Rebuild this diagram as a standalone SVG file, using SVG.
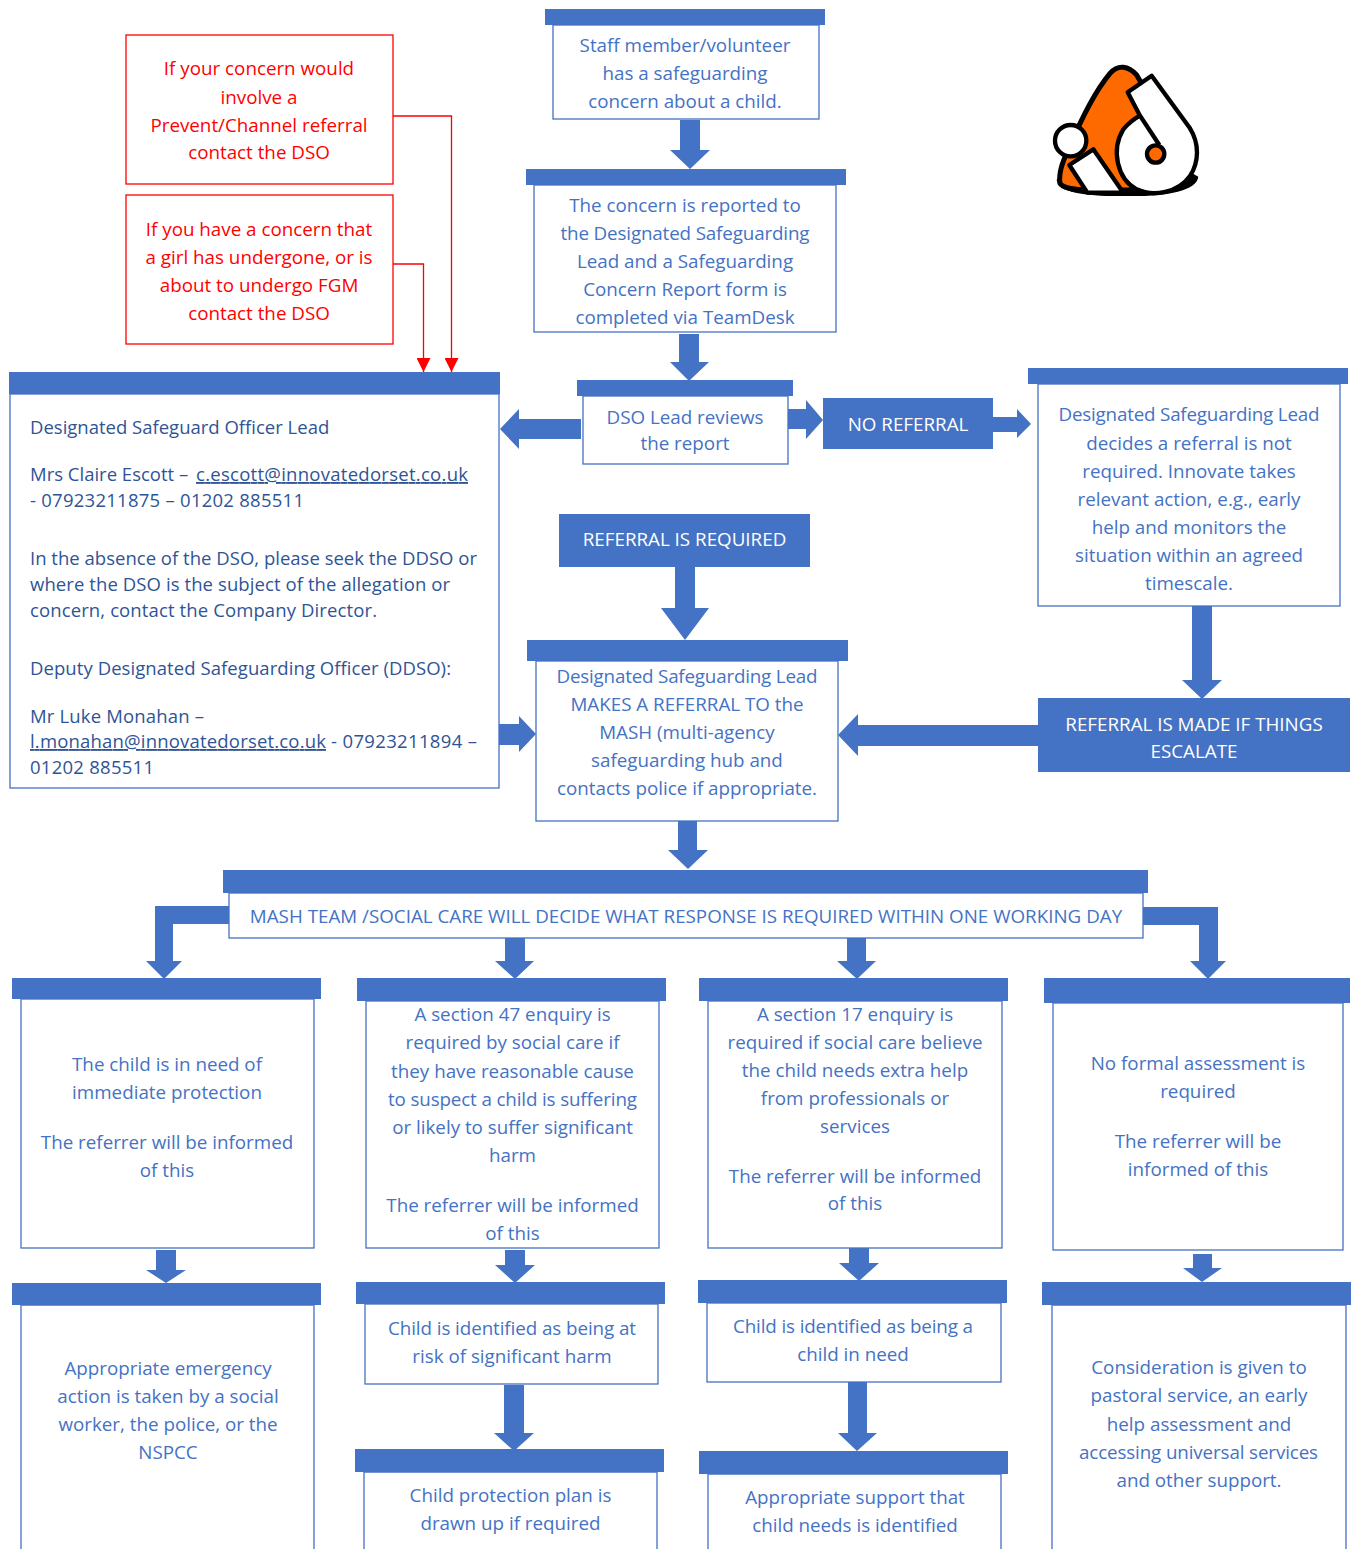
<svg xmlns="http://www.w3.org/2000/svg" width="1352" height="1549" viewBox="0 0 1352 1549">
<style>
text{font-family:"Open Sans","Liberation Sans",sans-serif;font-size:18.8px}
.t{fill:#4472c4;text-anchor:middle}
.l{fill:#2f5496;font-size:18.5px}
.u{text-decoration:underline}
.w{fill:#fff;text-anchor:middle}
.r{fill:#f00;text-anchor:middle}
.h,.a,.f{fill:#4472c4}
.b{fill:#fff;stroke:#4472c4;stroke-width:1.3}
.rb{fill:#fff;stroke:#f00;stroke-width:1.3}
.rc{fill:none;stroke:#f00;stroke-width:1.3}
</style>
<defs><marker id="rh" markerWidth="14" markerHeight="14" refX="14" refY="7" orient="auto" markerUnits="userSpaceOnUse"><path d="M0 0L14 7L0 14Z" fill="#f00"/></marker></defs>
<g id="connectors">
<path class="rc" d="M393 116H451.500V372" marker-end="url(#rh)"/>
<path class="rc" d="M393 264H423.500V372" marker-end="url(#rh)"/>
<polygon class="a" points="680,120 700,120 700,150 710,150 690,169 670,150 680,150"/>
<polygon class="a" points="679,334 699,334 699,362 709,362 689,381 670,362 679,362"/>
<polygon class="a" points="581,419 519,419 519,409 500,429 519,449 519,439 581,439"/>
<polygon class="a" points="788,409 806,409 806,400 823,420 806,439 806,429 788,429"/>
<polygon class="a" points="993,417 1017,417 1017,409 1031,424 1017,438 1017,432 993,432"/>
<polygon class="a" points="1192,606 1212,606 1212,680 1222,680 1202,699 1182,680 1192,680"/>
<polygon class="a" points="1038,725 858,725 858,714 838,735 858,756 858,746 1038,746"/>
<polygon class="a" points="675,567 695,567 695,608 709,608 685,640 661,608 675,608"/>
<polygon class="a" points="499,724 519,724 519,716 536,734 519,752 519,745 499,745"/>
<polygon class="a" points="678,821 697,821 697,850 708,850 688,869 668,850 678,850"/>
<polygon class="a" points="229,906 155,906 155,961 146,961 164,979 182,961 173,961 173,924 229,924"/>
<polygon class="a" points="1143,907 1218,907 1218,961 1226,961 1208,979 1190,961 1199,961 1199,925 1143,925"/>
<polygon class="a" points="505,938 525,938 525,961 534,961 515,979 495,961 505,961"/>
<polygon class="a" points="847,938 866,938 866,961 876,961 857,979 837,961 847,961"/>
<polygon class="a" points="156,1250 176,1250 176,1270 186,1270 166,1283 146,1270 156,1270"/>
<polygon class="a" points="505,1250 525,1250 525,1265 535,1265 515,1283 495,1265 505,1265"/>
<polygon class="a" points="849,1248 869,1248 869,1263 879,1263 859,1281 839,1263 849,1263"/>
<polygon class="a" points="1193,1254 1212,1254 1212,1268 1222,1268 1202,1282 1183,1268 1193,1268"/>
<polygon class="a" points="504,1385 524,1385 524,1433 534,1433 514,1451 494,1433 504,1433"/>
<polygon class="a" points="848,1382 867,1382 867,1433 877,1433 857,1451 838,1433 848,1433"/>
</g>
<g id="logo" transform="translate(1030 50) scale(.3333)">
<path d="M80 390C85 430 180 440 290 438C400 440 500 425 505 380L470 360H100Z" fill="#000"/>
<path d="M90 400C85 370 95 340 115 300C150 215 190 130 240 70C265 42 295 48 320 75L450 300L300 420H170C140 420 100 415 90 400Z" fill="#ff6a00" stroke="#000" stroke-width="15" stroke-linejoin="round"/>
<path d="M293 127L365 77L480 235C508 280 508 335 480 378C445 428 370 442 320 418C262 388 242 300 280 238C295 220 310 208 330 197Z" fill="#fff" stroke="#000" stroke-width="13" stroke-linejoin="round"/>
<path d="M330 197L388 285" fill="none" stroke="#000" stroke-width="13"/>
<circle cx="377" cy="312" r="26" fill="#ff6a00" stroke="#000" stroke-width="13"/>
<path d="M118 345L190 298L280 428H172Z" fill="#fff" stroke="#000" stroke-width="13" stroke-linejoin="round"/>
<circle cx="122" cy="272" r="47" fill="#fff" stroke="#000" stroke-width="13"/>
</g>
<g id="n-staff"><rect class="h" x="545" y="9" width="280" height="16"/><rect class="b" x="553" y="25" width="266" height="94"/>
<text class="t" x="685" y="52">Staff member/volunteer</text><text class="t" x="685" y="80">has a safeguarding</text><text class="t" x="685" y="108">concern about a child.</text></g>
<g id="n-reported"><rect class="h" x="526" y="169" width="320" height="16"/><rect class="b" x="534" y="185" width="302" height="147"/>
<text class="t" x="685" y="212">The concern is reported to</text><text class="t" x="685" y="240" textLength="249">the Designated Safeguarding</text><text class="t" x="685" y="268">Lead and a Safeguarding</text><text class="t" x="685" y="296">Concern Report form is</text><text class="t" x="685" y="324">completed via TeamDesk</text></g>
<g id="n-prevent"><rect class="rb" x="126" y="35" width="267" height="149"/>
<text class="r" x="259" y="75">If your concern would</text><text class="r" x="259" y="104">involve a</text><text class="r" x="259" y="132">Prevent/Channel referral</text><text class="r" x="259" y="159">contact the DSO</text></g>
<g id="n-fgm"><rect class="rb" x="126" y="195" width="267" height="149"/>
<text class="r" x="259" y="236">If you have a concern that</text><text class="r" x="259" y="264">a girl has undergone, or is</text><text class="r" x="259" y="292">about to undergo FGM</text><text class="r" x="259" y="320">contact the DSO</text></g>
<g id="n-dso-contact"><rect class="h" x="9" y="372" width="491" height="22"/><rect class="b" x="10" y="394" width="489" height="394"/>
<text class="l" x="30" y="434">Designated Safeguard Officer Lead</text>
<text class="l" x="30" y="481">Mrs Claire Escott – <tspan class="u" x="196" textLength="272">c.escott@innovatedorset.co.uk</tspan></text>
<text class="l" x="30" y="507" textLength="274">- 07923211875 – 01202 885511</text>
<text class="l" x="30" y="565" textLength="447">In the absence of the DSO, please seek the DDSO or</text>
<text class="l" x="30" y="591" textLength="420">where the DSO is the subject of the allegation or</text>
<text class="l" x="30" y="617" textLength="347">concern, contact the Company Director.</text>
<text class="l" x="30" y="675" textLength="421">Deputy Designated Safeguarding Officer (DDSO):</text>
<text class="l" x="30" y="723" textLength="174">Mr Luke Monahan –</text>
<text class="l" x="30" y="748"><tspan class="u" textLength="296">l.monahan@innovatedorset.co.uk</tspan><tspan x="331" textLength="146">- 07923211894 –</tspan></text>
<text class="l" x="30" y="774" textLength="124">01202 885511</text></g>
<g id="n-review"><rect class="h" x="577" y="380" width="216" height="16"/><rect class="b" x="583" y="396" width="205" height="68"/>
<text class="t" x="685" y="423.500">DSO Lead reviews</text><text class="t" x="685" y="450">the report</text></g>
<g id="n-noref"><rect class="f" x="823" y="398" width="170" height="51"/><text class="w" x="908" y="431">NO REFERRAL</text></g>
<g id="n-decides"><rect class="h" x="1028" y="368" width="320" height="16"/><rect class="b" x="1038" y="384" width="302" height="222"/>
<text class="t" x="1189" y="421" textLength="261">Designated Safeguarding Lead</text><text class="t" x="1189" y="450">decides a referral is not</text><text class="t" x="1189" y="478">required. Innovate takes</text><text class="t" x="1189" y="506">relevant action, e.g., early</text><text class="t" x="1189" y="534">help and monitors the</text><text class="t" x="1189" y="562">situation within an agreed</text><text class="t" x="1189" y="590">timescale.</text></g>
<g id="n-refreq"><rect class="f" x="559" y="514" width="251" height="53"/><text class="w" x="684.500" y="546">REFERRAL IS REQUIRED</text></g>
<g id="n-escalate"><rect class="f" x="1038" y="698" width="312" height="74"/><text class="w" x="1194" y="731">REFERRAL IS MADE IF THINGS</text><text class="w" x="1194" y="758">ESCALATE</text></g>
<g id="n-mash-ref"><rect class="h" x="527" y="640" width="321" height="21"/><rect class="b" x="536" y="661" width="302" height="160"/>
<text class="t" x="687" y="683" textLength="261">Designated Safeguarding Lead</text><text class="t" x="687" y="711">MAKES A REFERRAL TO the</text><text class="t" x="687" y="739">MASH (multi-agency</text><text class="t" x="687" y="767">safeguarding hub and</text><text class="t" x="687" y="795">contacts police if appropriate.</text></g>
<g id="n-mash"><rect class="h" x="223" y="870" width="925" height="23"/><rect class="b" x="229" y="893" width="914" height="45"/>
<text class="t" x="686" y="923">MASH TEAM /SOCIAL CARE WILL DECIDE WHAT RESPONSE IS REQUIRED WITHIN ONE WORKING DAY</text></g>
<g id="n-immediate"><rect class="h" x="12" y="978" width="309" height="21"/><rect class="b" x="21" y="999" width="293" height="249"/>
<text class="t" x="167" y="1071">The child is in need of</text><text class="t" x="167" y="1099">immediate protection</text><text class="t" x="167" y="1149">The referrer will be informed</text><text class="t" x="167" y="1177">of this</text></g>
<g id="n-s47"><rect class="h" x="357" y="978" width="309" height="23"/><rect class="b" x="366" y="1001" width="293" height="247"/>
<text class="t" x="512.500" y="1021">A section 47 enquiry is</text><text class="t" x="512.500" y="1049">required by social care if</text><text class="t" x="512.500" y="1078">they have reasonable cause</text><text class="t" x="512.500" y="1106" textLength="249">to suspect a child is suffering</text><text class="t" x="512.500" y="1134">or likely to suffer significant</text><text class="t" x="512.500" y="1162">harm</text><text class="t" x="512.500" y="1212">The referrer will be informed</text><text class="t" x="512.500" y="1240">of this</text></g>
<g id="n-s17"><rect class="h" x="699" y="978" width="309" height="23"/><rect class="b" x="708" y="1001" width="294" height="247"/>
<text class="t" x="855" y="1021">A section 17 enquiry is</text><text class="t" x="855" y="1049">required if social care believe</text><text class="t" x="855" y="1077">the child needs extra help</text><text class="t" x="855" y="1105">from professionals or</text><text class="t" x="855" y="1133">services</text><text class="t" x="855" y="1183">The referrer will be informed</text><text class="t" x="855" y="1210">of this</text></g>
<g id="n-noformal"><rect class="h" x="1044" y="978" width="306" height="25"/><rect class="b" x="1053" y="1003" width="290" height="247"/>
<text class="t" x="1198" y="1070">No formal assessment is</text><text class="t" x="1198" y="1098">required</text><text class="t" x="1198" y="1148">The referrer will be</text><text class="t" x="1198" y="1176">informed of this</text></g>
<g id="n-emergency"><rect class="h" x="12" y="1283" width="309" height="22"/><path class="b" d="M21 1549V1305H314V1549"/>
<text class="t" x="168" y="1375">Appropriate emergency</text><text class="t" x="168" y="1403">action is taken by a social</text><text class="t" x="168" y="1431">worker, the police, or the</text><text class="t" x="168" y="1459">NSPCC</text></g>
<g id="n-risk"><rect class="h" x="356" y="1282" width="309" height="22"/><rect class="b" x="365" y="1304" width="293" height="80"/>
<text class="t" x="512" y="1335" textLength="248">Child is identified as being at</text><text class="t" x="512" y="1363">risk of significant harm</text></g>
<g id="n-inneed"><rect class="h" x="698" y="1280" width="309" height="23"/><rect class="b" x="707" y="1303" width="294" height="79"/>
<text class="t" x="853" y="1333" textLength="240">Child is identified as being a</text><text class="t" x="853" y="1361">child in need</text></g>
<g id="n-pastoral"><rect class="h" x="1042" y="1282" width="309" height="23"/><path class="b" d="M1052 1549V1305H1346V1549"/>
<text class="t" x="1199" y="1374">Consideration is given to</text><text class="t" x="1199" y="1402">pastoral service, an early</text><text class="t" x="1199" y="1431">help assessment and</text><text class="t" x="1198.500" y="1459" textLength="239">accessing universal services</text><text class="t" x="1199" y="1487">and other support.</text></g>
<g id="n-plan"><rect class="h" x="355" y="1449" width="309" height="23"/><path class="b" d="M364 1549V1472H657V1549"/>
<text class="t" x="510.500" y="1502">Child protection plan is</text><text class="t" x="510.500" y="1530">drawn up if required</text></g>
<g id="n-support"><rect class="h" x="699" y="1451" width="309" height="23"/><path class="b" d="M708 1549V1474H1001V1549"/>
<text class="t" x="855" y="1504">Appropriate support that</text><text class="t" x="855" y="1532">child needs is identified</text></g>
</svg>
